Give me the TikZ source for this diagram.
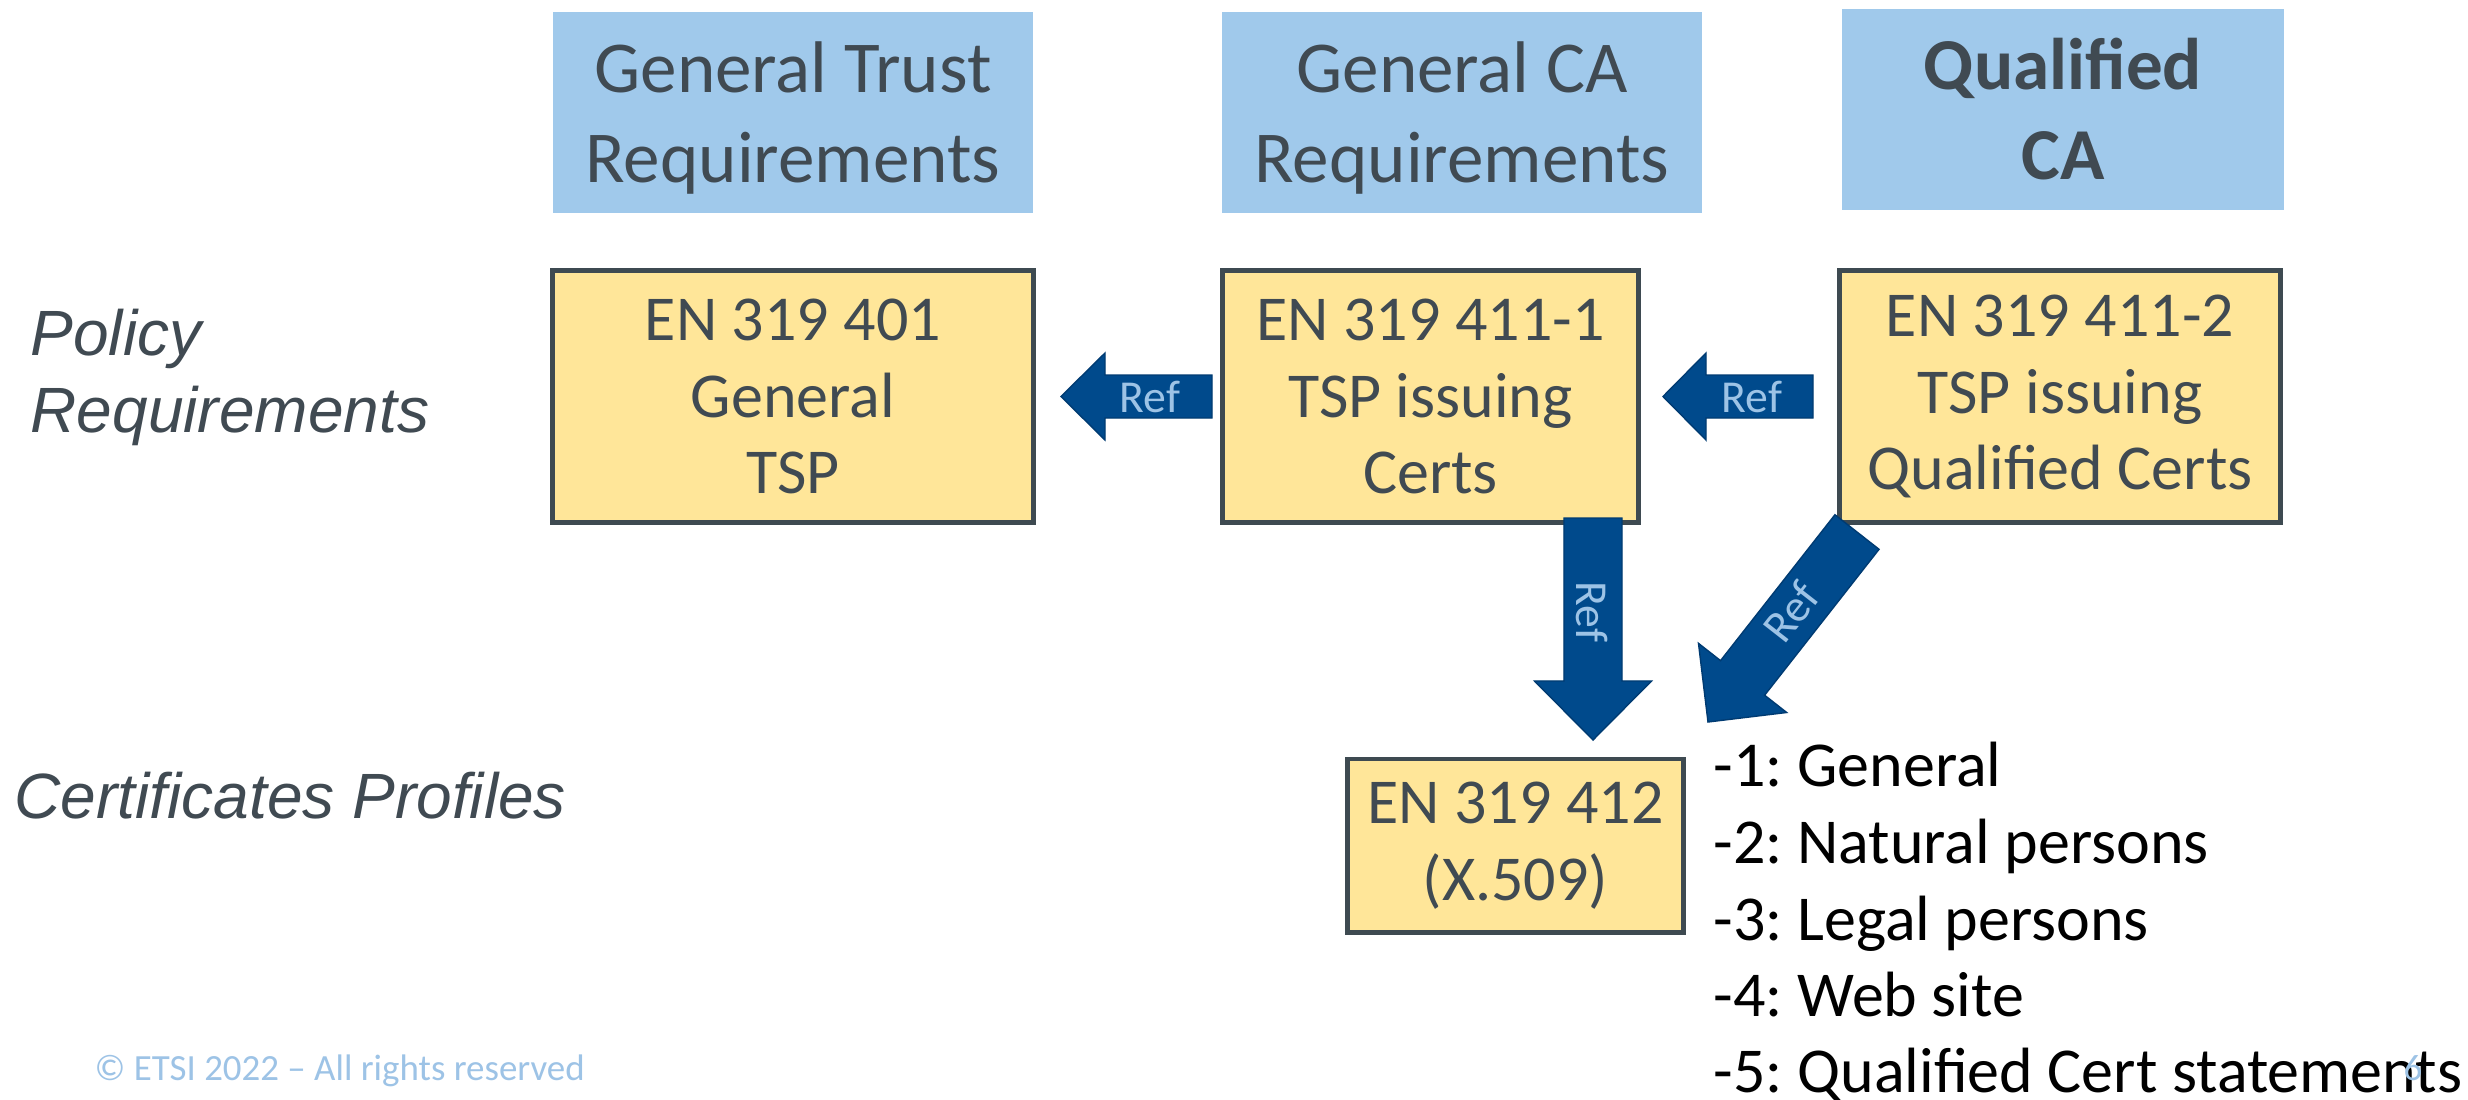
\documentclass[tikz,border=0pt]{standalone}
\usepackage{fontspec}
\setmainfont{Carlito}
\newfontfamily\arialfont{Liberation Sans}
\usetikzlibrary{calc}
\definecolor{hdrblue}{HTML}{A0C9EB}
\definecolor{boxyellow}{HTML}{FFE699}
\definecolor{boxedge}{HTML}{3E4A51}
\definecolor{txtgray}{HTML}{404A52}
\definecolor{arrowblue}{HTML}{004A8C}
\definecolor{arrowedge}{HTML}{003B72}
\definecolor{lightblue}{HTML}{9DC3E6}
\tikzset{
  hdr/.style={fill=hdrblue, inner sep=0pt},
  hdrtext/.style={text=txtgray, align=center, inner sep=0pt, font=\fontsize{20.8}{25.6}\selectfont},
  spec/.style={fill=boxyellow, draw=boxedge, line width=1.4pt, text=txtgray, align=center, inner sep=0pt, font=\fontsize{18.2}{21.8}\selectfont},
  side/.style={anchor=base west, inner sep=0pt, text=txtgray, font=\arialfont\itshape\fontsize{18.2}{21.9}\selectfont},
  item/.style={anchor=base west, inner sep=0pt, text=black, font=\fontsize{18.2}{21.9}\selectfont},
  reflabel/.style={text=lightblue, inner sep=0pt, font=\fontsize{13}{15}\selectfont},
  refarrow/.style={fill=arrowblue, draw=arrowedge, line width=0.4pt, line join=miter},
  foot/.style={inner sep=0pt, text=lightblue, font=\fontsize{10.5}{12}\selectfont},
}
% #1 tail, #2 tip, #3 shaft half width, #4 head half width, #5 head length
\newcommand\myblockarrow[5]{%
  \coordinate (ba-b) at ($(#2)!#5!(#1)$);
  \draw[refarrow] (#2) -- ($(ba-b)!#4!90:(#2)$) -- ($(ba-b)!#3!90:(#2)$)
    -- ($(#1)!#3!90:(#2)$) -- ($(#1)!#3!-90:(#2)$) -- ($(ba-b)!#3!-90:(#2)$)
    -- ($(ba-b)!#4!-90:(#2)$) -- cycle;
}
\begin{document}
\frenchspacing
\begin{tikzpicture}[x=0.01cm, y=-0.01cm]
\useasboundingbox (0,0) rectangle (2468,1099);
\fill[white] (0,0) rectangle (2468,1099);

% header boxes
\node[hdr, minimum width=4.80cm, minimum height=2.01cm] (h1) at (793,112.5) {};
\node[hdr, minimum width=4.80cm, minimum height=2.01cm] (h2) at (1462,112.5) {};
\node[hdr, minimum width=4.42cm, minimum height=2.01cm] (h3) at (2063,109.5) {};
\node[hdrtext] (h1t) at ($(h1.center)+(0,5)$) {General Trust\\Requirements};
\node[hdrtext] (h2t) at ($(h2.center)+(0,5)$) {General CA\\Requirements};
\node[hdrtext] (h3t) at (h3.center) {\bfseries Qualified\\\bfseries CA};

% side labels
\node[side] (pol1) at (30,355) {Policy};
\node[side] (pol2) at (30,432) {Requirements};
\node[side] (cp) at (14,818) {Certificates Profiles};

% spec boxes
\node[spec, minimum width=4.80cm, minimum height=2.51cm] (y1) at (793,396.5) {EN 319 401\\General\\TSP};
\node[spec, minimum width=4.15cm, minimum height=2.51cm] (y2) at (1430.5,396.5) {EN 319 411-1\\TSP issuing\\Certs};
\node[spec, minimum width=4.40cm, minimum height=2.51cm] (y3) at (2060,396.5) {EN 319 411-2\\TSP issuing\\Qualified Certs};
\node[spec, minimum width=3.35cm, minimum height=1.73cm] (y4) at (1515.5,845.5) {EN 319 412\\(X.509)};

% arrow end points
\coordinate (a1t) at (1212,396.5); \coordinate (a1h) at (1061,396.5);
\coordinate (a2t) at (1813,396.5); \coordinate (a2h) at (1663,396.5);
\coordinate (a3t) at (1593,518);   \coordinate (a3h) at (1593,740);
\coordinate (a4t) at (1857,532);   \coordinate (a4h) at (1708,722);

\myblockarrow{a1t}{a1h}{0.215cm}{0.435cm}{0.44cm}
\myblockarrow{a2t}{a2h}{0.215cm}{0.435cm}{0.43cm}
\myblockarrow{a3t}{a3h}{0.29cm}{0.585cm}{0.59cm}
\myblockarrow{a4t}{a4h}{0.28cm}{0.56cm}{0.56cm}

\node[reflabel] (r1) at (1150,396.5) {Ref};
\node[reflabel] (r2) at (1752,396.5) {Ref};
\node[reflabel, rotate=-90] (r3) at (1592,612) {Ref};
\node[reflabel, rotate=52] (r4) at (1791,612) {Ref};

% list
\node[item] (l1) at (1713,786) {-1: General};
\node[item] (l2) at (1713,863) {-2: Natural persons};
\node[item] (l3) at (1713,940) {-3: Legal persons};
\node[item] (l4) at (1713,1016) {-4: Web site};
\node[item] (l5) at (1713,1092) {-5: Qualified Cert statements};

% footer
\node[foot, anchor=base west] (ft) at (94,1080) {© ETSI 2022 – All rights reserved};
\node[foot, anchor=base] (pg) at (2413,1080) {6};
\end{tikzpicture}
\end{document}
